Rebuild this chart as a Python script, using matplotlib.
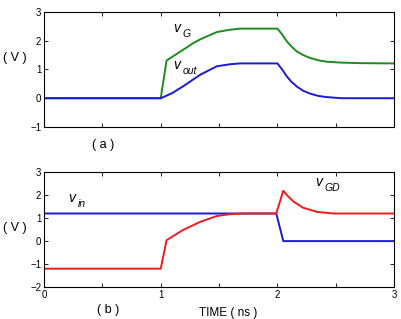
import matplotlib
matplotlib.use("Agg")
import matplotlib.pyplot as plt

plt.rcParams['font.family'] = ['Liberation Sans', 'DejaVu Sans']

# Panel (a)
t_vg = [0.0, 1.0, 1.05, 1.19, 1.28, 1.34, 1.48, 1.59, 1.68, 2.0, 2.04, 2.08, 2.12, 2.165, 2.22, 2.28, 2.35, 2.42, 2.54, 2.7, 3.0]
vg   = [0.0, 0.0, 1.31, 1.68, 1.92, 2.05, 2.30, 2.38, 2.42, 2.42, 2.22, 1.98, 1.80, 1.63, 1.50, 1.40, 1.32, 1.27, 1.24, 1.22, 1.21]
t_vout = [0.0, 1.0, 1.1, 1.19, 1.34, 1.48, 1.59, 1.68, 2.0, 2.04, 2.08, 2.12, 2.165, 2.22, 2.28, 2.35, 2.42, 2.55, 3.0]
vout   = [0.0, 0.0, 0.18, 0.41, 0.82, 1.11, 1.18, 1.21, 1.21, 1.00, 0.76, 0.57, 0.41, 0.26, 0.16, 0.08, 0.04, 0.0, 0.0]

# Panel (b)
t_vin = [0.0, 1.99, 2.05, 3.0]
vin   = [1.2, 1.2, 0.0, 0.0]
t_vgd = [0.0, 1.0, 1.05, 1.19, 1.34, 1.48, 1.59, 1.7, 1.99, 2.05, 2.09, 2.14, 2.22, 2.34, 2.48, 3.0]
vgd   = [-1.2, -1.2, 0.04, 0.48, 0.84, 1.09, 1.17, 1.2, 1.2, 2.19, 1.95, 1.71, 1.45, 1.27, 1.2, 1.2]

green = '#1f8a1f'
blue = '#1a1ad6'
red = '#ee1c1c'

fig = plt.figure(figsize=(4.02, 3.19), dpi=100)
ax1 = fig.add_axes([0.1095, 0.602, 0.871, 0.3605])
ax2 = fig.add_axes([0.1095, 0.100, 0.871, 0.3605])

for ax in (ax1, ax2):
    ax.set_xlim(0, 3)
    ax.set_xticks([0, 0.5, 1, 1.5, 2, 2.5, 3])
    ax.tick_params(direction='in', top=True, right=True, length=3, width=0.6,
                   labelsize=7, pad=2)
    for s in ax.spines.values():
        s.set_linewidth(0.8)

ax1.plot(t_vg, vg, color=green, lw=1.4)
ax1.plot(t_vout, vout, color=blue, lw=1.4)
ax1.set_ylim(-1, 3)
ax1.set_yticks([-1, 0, 1, 2, 3])
ax1.set_xticklabels([])
ax1.text(1.11, 2.3, 'v', fontsize=10, fontstyle='italic')
ax1.text(1.19, 2.13, 'G', fontsize=7.5, fontstyle='italic')
ax1.text(1.11, 1.0, 'v', fontsize=10, fontstyle='italic')
ax1.text(1.19, 0.83, 'out', fontsize=7.5, fontstyle='italic')

ax2.plot(t_vin, vin, color=blue, lw=1.4)
ax2.plot(t_vgd, vgd, color=red, lw=1.4)
ax2.set_ylim(-2, 3)
ax2.set_yticks([-2, -1, 0, 1, 2, 3])
ax2.set_xticklabels(['0', '', '1', '', '2', '', '3'])
ax2.text(0.21, 1.7, 'v', fontsize=10, fontstyle='italic')
ax2.text(0.29, 1.48, 'in', fontsize=7.5, fontstyle='italic')
ax2.text(2.32, 2.38, 'v', fontsize=10, fontstyle='italic')
ax2.text(2.40, 2.16, 'GD', fontsize=7.5, fontstyle='italic')

fig.text(15/402, 1-58/319, '( V )', fontsize=9, ha='center', va='center')
fig.text(15/402, 1-228/319, '( V )', fontsize=9, ha='center', va='center')
fig.text(103/402, 1-145/319, '( a )', fontsize=9, ha='center', va='center')
fig.text(108/402, 1-310/319, '( b )', fontsize=9, ha='center', va='center')
fig.text(228/402, 1-313/319, 'TIME ( ns )', fontsize=8.5, ha='center', va='center')

fig.savefig('out.png', dpi=100)
